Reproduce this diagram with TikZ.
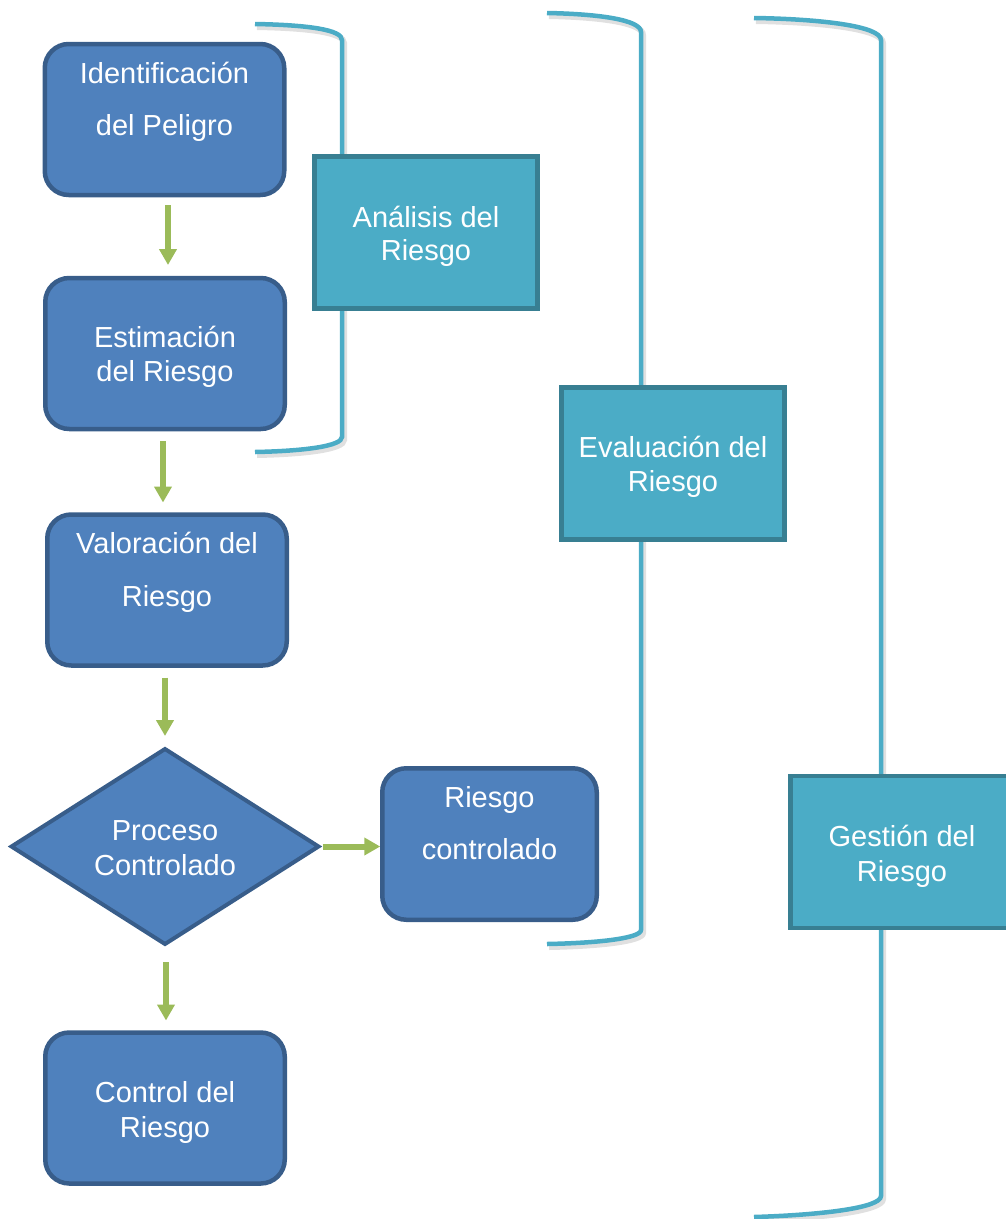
\documentclass[tikz,border=0pt]{standalone}
\usepackage{fontspec}
\setmainfont{Liberation Sans}
\usetikzlibrary{shapes.geometric,arrows.meta}
\definecolor{bfill}{HTML}{4F81BD}
\definecolor{bdraw}{HTML}{385D8A}
\definecolor{tfill}{HTML}{4BACC6}
\definecolor{tdraw}{HTML}{387F92}
\definecolor{gline}{HTML}{9BBB59}
\definecolor{brk}{HTML}{4BACC6}
\begin{document}
\begin{tikzpicture}[x=1pt,y=-1pt,
  bluebox/.style={draw=bdraw, fill=bfill, line width=4.5pt, rounded corners=24pt,
    minimum width=239.5pt, minimum height=151pt, inner sep=0pt, outer sep=0pt},
  tealbox/.style={draw=tdraw, fill=tfill, line width=4.5pt,
    minimum width=223pt, minimum height=152pt, inner sep=0pt, outer sep=0pt},
  decision/.style={diamond, draw=bdraw, fill=bfill, line width=4pt, aspect=1.57,
    minimum width=307pt, minimum height=195pt, inner sep=0pt, outer sep=0pt},
  txt/.style={text=white, font=\fontsize{29}{35}\selectfont, inner sep=0pt, anchor=base},
  garrow/.style={draw=gline, line width=6pt, -{Triangle[width=17pt,length=16pt]}},
  bracket/.style={draw=brk, line width=4.5pt, line cap=butt},
  bshadow/.style={draw=black, opacity=0.12, line width=6pt},
]
\useasboundingbox (0,0) rectangle (1006,1219);

% brackets (shadow then line)
\foreach \s/\o in {bshadow/2, bracket/0}{
  \draw[\s, shift={(\o,\o*1.5)}] (255,24) .. controls (310,25) and (342,30) .. (342,40)
     -- (342,437) .. controls (342,446) and (305,451) .. (255,452);
  \draw[\s, shift={(\o,\o*1.5)}] (547,13) .. controls (600,14) and (641,20) .. (641,32)
     -- (641,930) .. controls (641,938) and (600,943) .. (547,944);
  \draw[\s, shift={(\o,\o*1.5)}] (754,18) .. controls (820,19) and (881,26) .. (881,40)
     -- (881,1196) .. controls (881,1208) and (820,1215) .. (754,1217);
}

% teal boxes
\node[tealbox] (ana) at (426,232.5) {};
\node[tealbox] (eva) at (673,463.5) {};
\node[tealbox] (ges) at (902,852) {};
\node[txt] (anaA) at (426,227) {Análisis del};
\node[txt] (anaB) at (426,260) {Riesgo};
\node[txt] (evaA) at (673,457) {Evaluación del};
\node[txt] (evaB) at (673,491) {Riesgo};
\node[txt] (gesA) at (902,846) {Gestión del};
\node[txt] (gesB) at (902,881) {Riesgo};

% flow boxes
\node[bluebox] (b1) at (164.5,119.5) {};
\node[bluebox] (b2) at (165,353.5) {};
\node[bluebox] (b3) at (167,590) {};
\node[decision] (d) at (165,846.5) {};
\node[bluebox, minimum width=214.5pt, minimum height=151.5pt] (rc) at (489.5,844) {};
\node[bluebox] (b5) at (165,1108) {};

\node[txt] (b1A) at (164.5,83) {Identificación};
\node[txt] (b1B) at (164.5,135) {del Peligro};
\node[txt] (b2A) at (165,347) {Estimación};
\node[txt] (b2B) at (165,381) {del Riesgo};
\node[txt] (b3A) at (167,553) {Valoración del};
\node[txt] (b3B) at (167,606) {Riesgo};
\node[txt] (dA) at (165,840) {Proceso};
\node[txt] (dB) at (165,875) {Controlado};
\node[txt] (rcA) at (489.5,807) {Riesgo};
\node[txt] (rcB) at (489.5,859) {controlado};
\node[txt] (b5A) at (165,1102) {Control del};
\node[txt] (b5B) at (165,1137) {Riesgo};

% arrows
\draw[garrow, shorten <=10pt, shorten >=13pt] ([xshift=3.5pt]b1.south) -- ([xshift=3.5pt]b1.south |- b2.north);
\draw[garrow, shorten <=12pt, shorten >=12pt] ([xshift=-2pt]b2.south) -- ([xshift=-2pt]b2.south |- b3.north);
\draw[garrow, shorten <=12pt, shorten >=13pt] (d.north |- b3.south) -- (d.north);
\draw[garrow, shorten <=18pt, shorten >=12pt] ([xshift=1pt]d.south) -- ([xshift=1pt]d.south |- b5.north);
\draw[garrow, shorten <=4pt, shorten >=2pt] (d.east) -- (rc.west |- d.east);
\end{tikzpicture}
\end{document}
